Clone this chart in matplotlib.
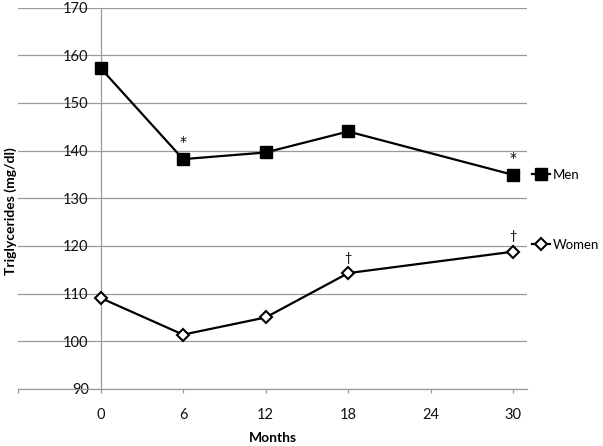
import matplotlib
matplotlib.use("Agg")
import matplotlib.pyplot as plt
from matplotlib.lines import Line2D

plt.rcParams['font.family'] = ['Lato', 'DejaVu Sans']

months = [0, 6, 12, 18, 30]
men = [157.3, 138.2, 139.6, 144.0, 134.9]
women = [109.1, 101.4, 105.0, 114.3, 118.8]
men_marks = ['', '*', '', '', '*']
women_marks = ['', '', '', '\u2020', '\u2020']
xticks = [-6, 0, 6, 12, 18, 24, 30]
xticklabels = ['', '0', '6', '12', '18', '24', '30']
yticks = [90, 100, 110, 120, 130, 140, 150, 160, 170]

fig = plt.figure(figsize=(6.03, 4.46), dpi=100)
ax = fig.add_axes([18/603, 1 - 389/446, 509/603, 381.5/446])

grid_c = '#9a9a9a'
ax.set_xlim(-6, 31)
ax.set_ylim(90, 170)
ax.set_yticks(yticks)
ax.set_xticks(xticks)
ax.set_xticklabels(xticklabels)
ax.grid(axis='y', color=grid_c, linewidth=0.9)
ax.set_axisbelow(True)

for s in ['top', 'right']:
    ax.spines[s].set_visible(False)
ax.spines['left'].set_position(('data', 0))
ax.spines['left'].set_color(grid_c)
ax.spines['left'].set_linewidth(0.9)
ax.spines['bottom'].set_color(grid_c)
ax.spines['bottom'].set_linewidth(0.9)

ax.tick_params(axis='y', length=0, pad=8.5, labelsize=10.5, labelcolor='#111111')
ax.tick_params(axis='x', length=3, width=0.9, color=grid_c, pad=11, labelsize=10.5, labelcolor='#111111')

ax.plot(months, men, color='black', linewidth=1.6, marker='s', markersize=8.5,
        markerfacecolor='black', markeredgecolor='black', zorder=3, clip_on=False)
ax.plot(months, women, color='black', linewidth=1.6, marker='D', markersize=6.5,
        markerfacecolor='white', markeredgecolor='black', markeredgewidth=1.5, zorder=3, clip_on=False)

for x, y, m in zip(months, men, men_marks):
    if m:
        ax.annotate(m, (x, y), xytext=(0, 12), textcoords='offset points',
                    ha='center', va='center', fontsize=10, family='DejaVu Sans')
for x, y, m in zip(months, women, women_marks):
    if m:
        ax.annotate(m, (x, y), xytext=(0, 11), textcoords='offset points',
                    ha='center', va='center', fontsize=9)

fig.text(273/603, 1 - 438/446, 'Months', ha='center', va='center',
         fontsize=10, fontweight='bold')
fig.text(11/603, 1 - 211/446, 'Triglycerides (mg/dl)', ha='center', va='center',
         rotation=90, fontsize=10, fontweight='bold')

handles = [
    Line2D([], [], color='black', linewidth=1.6, marker='s', markersize=8,
           markerfacecolor='black', markeredgecolor='black'),
    Line2D([], [], color='black', linewidth=1.6, marker='D', markersize=6,
           markerfacecolor='white', markeredgecolor='black', markeredgewidth=1.5),
]
fig.legend(handles, ['Men', 'Women'], loc='center left',
           bbox_to_anchor=(532/603, 1 - 210/446), frameon=False, fontsize=9.5,
           handlelength=1.4, handletextpad=0.15, labelspacing=4.4, borderpad=0,
           borderaxespad=0)

fig.savefig('out.png', dpi=100)
